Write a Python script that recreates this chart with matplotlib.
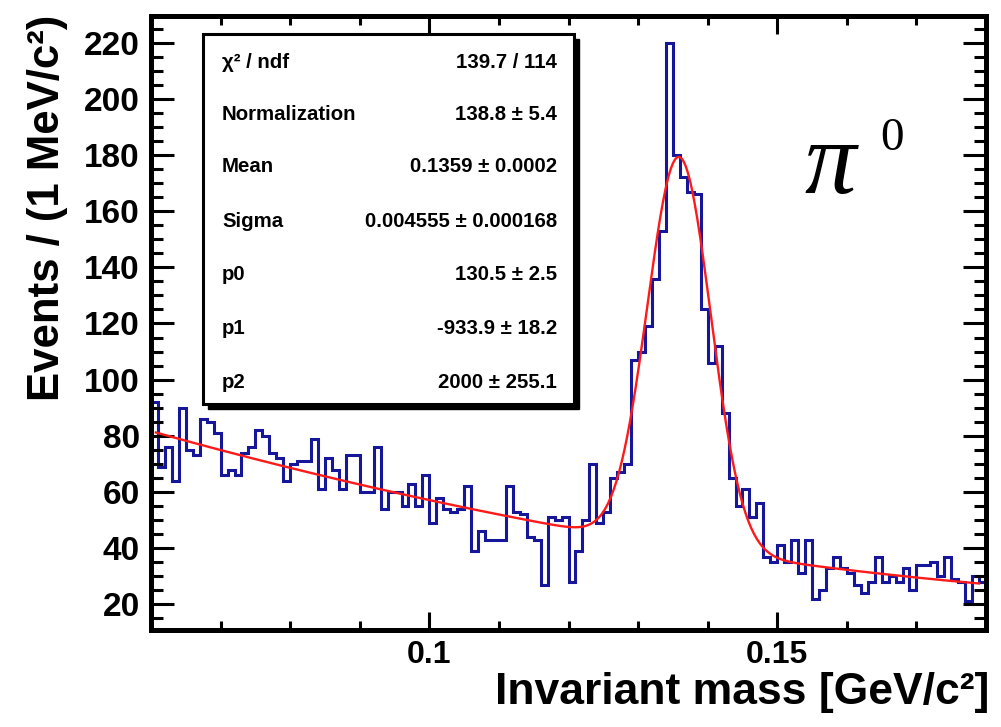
import numpy as np
import matplotlib
matplotlib.use('Agg')
import matplotlib.pyplot as plt
from matplotlib.patches import Rectangle
from matplotlib.ticker import MultipleLocator, FixedLocator

plt.rcParams['font.family'] = ['Liberation Sans', 'DejaVu Sans']

# events per 1 MeV bin, 0.060 .. 0.180 GeV/c^2
counts = [92, 69, 76, 64, 90, 75, 73, 86, 85, 81,
          66, 68, 66, 74, 76, 82, 80, 74, 72, 64,
          70, 71, 71, 79, 61, 72, 68, 61, 73, 73,
          60, 60, 76, 54, 60, 60, 55, 63, 55, 66,
          49, 58, 54, 53, 54, 62, 39, 46, 43, 43,
          43, 62, 53, 52, 44, 43, 27, 51, 50, 51,
          28, 39, 50, 70, 49, 53, 65, 67, 70, 107,
          110, 119, 136, 153, 220, 180, 172, 167, 166, 125,
          106, 112, 88, 65, 55, 61, 51, 56, 37, 35,
          41, 35, 43, 31, 43, 22, 25, 33, 37, 33,
          31, 27, 24, 28, 37, 28, 30, 28, 33, 25,
          34, 34, 35, 30, 37, 29, 28, 21, 30, 28]
bin_lo = 0.060
bin_w = 0.001

# fit: gaussian + 2nd order polynomial
fit_norm, fit_mean, fit_sigma = 138.8, 0.1359, 0.004555
p0, p1, p2 = 130.5, -933.9, 2000.0
fit_lo, fit_hi = 0.0607, 0.1790

stat_labels = ['χ² / ndf', 'Normalization', 'Mean', 'Sigma', 'p0', 'p1', 'p2']
stat_values = ['139.7 / 114', '138.8 ± 5.4', '0.1359 ± 0.0002',
               '0.004555 ± 0.000168', '130.5 ± 2.5', '-933.9 ± 18.2',
               '2000 ± 255.1']

W, H = 1001, 727
fig = plt.figure(figsize=(W / 100, H / 100), dpi=100)
ax = fig.add_axes([151 / W, 1 - 630 / H, (986 - 151) / W, (630 - 16) / H])

edges = bin_lo + bin_w * np.arange(len(counts) + 1)
ax.stairs(counts, edges, color='#16169a', lw=2.2)

xf = np.linspace(fit_lo, fit_hi, 600)
yf = fit_norm * np.exp(-0.5 * ((xf - fit_mean) / fit_sigma) ** 2) + p0 + p1 * xf + p2 * xf ** 2
ax.plot(xf, yf, color='#ff1a1a', lw=1.7)

ax.set_xlim(0.06, 0.18)
ax.set_ylim(10.85, 229.5)

ax.xaxis.set_major_locator(FixedLocator([0.1, 0.15]))
ax.xaxis.set_minor_locator(MultipleLocator(0.01))
ax.yaxis.set_major_locator(MultipleLocator(20))
ax.yaxis.set_minor_locator(MultipleLocator(5))
ax.xaxis.set_major_formatter(plt.FuncFormatter(lambda v, p: f'{v:g}'))

for s in ax.spines.values():
    s.set_linewidth(3.6)
ax.tick_params(which='both', direction='in', top=True, right=True, width=2.2)
ax.tick_params(axis='y', which='major', length=16.5, pad=8, labelsize=24)
ax.tick_params(axis='y', which='minor', length=8.6)
ax.tick_params(axis='x', which='major', length=13, pad=7, labelsize=23)
ax.tick_params(axis='x', which='minor', length=6.5)
for lab in ax.get_xticklabels() + ax.get_yticklabels():
    lab.set_fontweight('bold')

fig.text(989 / W, 1 - 704 / H, 'Invariant mass [GeV/c²]', ha='right', va='baseline',
         fontsize=32, fontweight='bold')
fig.text(48 / W, 1 - 15 / H, 'Events / (1 MeV/c²)', rotation=90, ha='center', va='top',
         fontsize=31.5, fontweight='bold')

# stats box with shadow
bx0, by0, bx1, by1 = 203, 34, 574, 404
fig.add_artist(Rectangle(((bx0 + 5) / W, 1 - (by1 + 5) / H), (bx1 - bx0) / W, (by1 - by0) / H,
                         transform=fig.transFigure, facecolor='black', edgecolor='black', zorder=5))
fig.add_artist(Rectangle((bx0 / W, 1 - by1 / H), (bx1 - bx0) / W, (by1 - by0) / H,
                         transform=fig.transFigure, facecolor='white', edgecolor='black',
                         lw=2.2, zorder=6))
row_y = [62, 115, 167, 222, 275, 328, 382]
for lab, val, y in zip(stat_labels, stat_values, row_y):
    fig.text(222 / W, 1 - y / H, lab, ha='left', va='center', fontsize=14.7,
             fontweight='bold', zorder=7)
    fig.text(557 / W, 1 - y / H, val, ha='right', va='center', fontsize=14.7,
             fontweight='bold', zorder=7)

fig.text(804 / W, 1 - 193 / H, 'π', family='Liberation Serif', style='italic', fontsize=74,
         ha='left', va='baseline')
fig.text(880 / W, 1 - 150 / H, '0', family='Liberation Serif', fontsize=34,
         ha='left', va='baseline')

fig.savefig('out.png', dpi=100)
